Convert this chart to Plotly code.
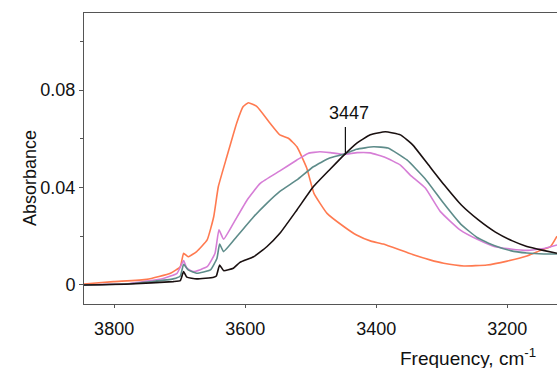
import plotly.graph_objects as go

# ---- data ----
orange_x = [3847, 3801, 3750, 3714, 3699, 3694, 3687, 3674, 3658, 3648, 3641, 3628, 3613, 3603, 3595,
            3582, 3562, 3547, 3534, 3521, 3506, 3495, 3475, 3449, 3430, 3408, 3389, 3351, 3318, 3297,
            3266, 3231, 3200, 3170, 3150, 3134, 3124]
orange_y = [0.0004, 0.0014, 0.0023, 0.0048, 0.0075, 0.0130, 0.0116, 0.0137, 0.0185, 0.0280, 0.0403, 0.0526,
            0.0664, 0.0732, 0.0748, 0.0732, 0.0664, 0.0616, 0.0602, 0.0567, 0.0480, 0.0376, 0.0294, 0.0239,
            0.0205, 0.0180, 0.0168, 0.0131, 0.0103, 0.0089, 0.0078, 0.0082, 0.0098, 0.0119, 0.0141, 0.0157,
            0.0200]

pink_x = [3847, 3776, 3725, 3704, 3694, 3689, 3679, 3658, 3646, 3640, 3633, 3618, 3597, 3577, 3547, 3521,
          3504, 3486, 3470, 3450, 3429, 3409, 3386, 3363, 3348, 3325, 3302, 3272, 3244, 3220, 3195, 3170,
          3142, 3124]
pink_y = [0.0000, 0.0006, 0.0027, 0.0048, 0.0100, 0.0069, 0.0055, 0.0075, 0.0130, 0.0226, 0.0188, 0.0253,
          0.0349, 0.0417, 0.0468, 0.0513, 0.0540, 0.0547, 0.0543, 0.0536, 0.0543, 0.0542, 0.0523, 0.0492,
          0.0451, 0.0398, 0.0301, 0.0226, 0.0185, 0.0158, 0.0148, 0.0142, 0.0151, 0.0164]

teal_x = [3847, 3776, 3710, 3699, 3694, 3687, 3674, 3653, 3643, 3639, 3633, 3613, 3587, 3567, 3547, 3521,
          3496, 3471, 3450, 3430, 3404, 3382, 3353, 3325, 3297, 3271, 3246, 3220, 3195, 3170, 3144, 3124]
teal_y = [0.0000, 0.0005, 0.0025, 0.0037, 0.0085, 0.0062, 0.0048, 0.0062, 0.0110, 0.0168, 0.0137, 0.0198,
          0.0280, 0.0335, 0.0384, 0.0431, 0.0485, 0.0521, 0.0536, 0.0557, 0.0567, 0.0562, 0.0513, 0.0435,
          0.0335, 0.0250, 0.0195, 0.0162, 0.0141, 0.0131, 0.0127, 0.0127]

black_x = [3847, 3776, 3710, 3699, 3694, 3689, 3674, 3648, 3644, 3639, 3633, 3618, 3608, 3587, 3567, 3547,
           3521, 3496, 3470, 3450, 3430, 3409, 3386, 3363, 3344, 3320, 3296, 3270, 3244, 3218, 3192, 3170,
           3145, 3124]
black_y = [0.0000, 0.0004, 0.0014, 0.0018, 0.0055, 0.0032, 0.0025, 0.0032, 0.0037, 0.0082, 0.0059, 0.0069,
           0.0093, 0.0116, 0.0157, 0.0212, 0.0308, 0.0403, 0.0476, 0.0531, 0.0581, 0.0616, 0.0629, 0.0616,
           0.0574, 0.0492, 0.0410, 0.0328, 0.0267, 0.0217, 0.0181, 0.0158, 0.0142, 0.0130]

x_ticks = [3800, 3600, 3400, 3200]
y_ticks = [0, 0.04, 0.08]
y_tick_labels = ["0", "0.04", "0.08"]
y_minor = [0.02, 0.06, 0.10]
marker_x = 3447
marker_label = "3447"

font = "Liberation Sans, Arial, sans-serif"

fig = go.Figure()
for xs, ys, col in [(orange_x, orange_y, "#FF7A50"),
                    (pink_x, pink_y, "#D67ED6"),
                    (teal_x, teal_y, "#5E8C8A"),
                    (black_x, black_y, "#1A1010")]:
    fig.add_trace(go.Scatter(x=xs, y=ys, mode="lines",
                             line=dict(color=col, width=1.6, shape="spline", smoothing=0.4),
                             showlegend=False, hoverinfo="skip"))

fig.add_shape(type="line", xref="x", yref="y", x0=marker_x, x1=marker_x,
              y0=0.0535, y1=0.0648, line=dict(color="#111111", width=1.2))
fig.add_annotation(x=marker_x - 6, y=0.0706, xref="x", yref="y", text=marker_label,
                   showarrow=False, font=dict(family=font, size=18, color="#111111"))

fig.add_annotation(x=-0.1395, y=0.433, xref="paper", yref="paper", text="Absorbance",
                   textangle=-90, showarrow=False,
                   font=dict(family=font, size=18, color="#111111"))
fig.add_annotation(x=0.664, y=-0.182, xref="paper", yref="paper",
                   text="Frequency, cm<sup>-1</sup>", xanchor="left", yanchor="middle",
                   showarrow=False, font=dict(family=font, size=19, color="#111111"))

fig.update_layout(
    width=557, height=368,
    margin=dict(l=84, r=0, t=13, b=64),
    paper_bgcolor="white", plot_bgcolor="white",
    font=dict(family=font, size=18, color="#111111"),
    showlegend=False,
)
fig.update_xaxes(range=[3846, 3124], tickvals=x_ticks, ticktext=[str(v) for v in x_ticks],
                 ticks="outside", ticklen=3, tickcolor="#555555", showgrid=False, zeroline=False,
                 showline=True, linecolor="#555555", linewidth=1, mirror=True,
                 ticklabelstandoff=5)
fig.update_yaxes(range=[-0.0078, 0.1116], tickvals=y_ticks, ticktext=y_tick_labels,
                 ticks="outside", ticklen=4, tickcolor="#555555", showgrid=False, zeroline=False,
                 showline=True, linecolor="#555555", linewidth=1,
                 minor=dict(tickvals=y_minor, ticks="outside", ticklen=3, tickcolor="#555555",
                            showgrid=False))

fig.write_html("out.html")
